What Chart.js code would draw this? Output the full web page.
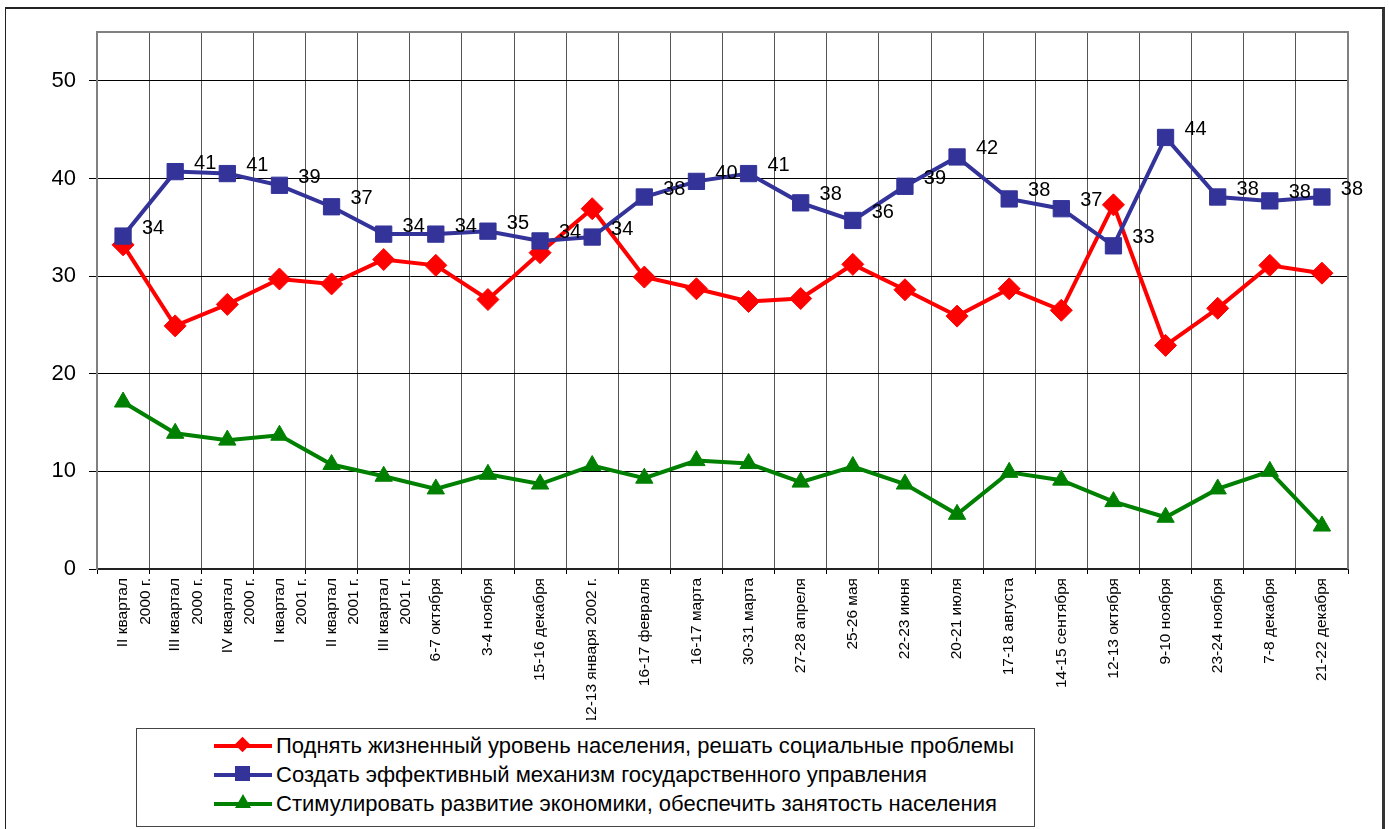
<!DOCTYPE html>
<html lang="ru">
<head>
<meta charset="utf-8">
<title>Приоритеты</title>
<script src="https://cdn.jsdelivr.net/npm/chart.js@4.4.1/dist/chart.umd.min.js"></script>
<style>
  html, body { margin: 0; padding: 0; background: #fff; }
  body { width: 1389px; height: 829px; position: relative; overflow: hidden; font-family: Arial, "Liberation Sans", sans-serif; }
  #frame { position: absolute; left: 5px; top: 7px; width: 1376px; height: 840px; border-top: 2px solid #222; border-left: 1.5px solid #222; border-right: 3px solid #333; }
  #chartWrap { position: absolute; left: 0; top: 0; width: 1389px; height: 829px; }
  #legend { position: absolute; left: 136px; top: 728px; width: 897px; height: 97px; border: 1.5px solid #444; background: #fff; }
  .item { position: absolute; left: 0; height: 28px; width: 890px; }
  .sample { position: absolute; left: 77px; top: 12px; width: 58px; height: 4px; }
  .marker { position: absolute; }
  .label { position: absolute; left: 139px; top: 0; line-height: 28px; font-size: 22px; color: #000; white-space: nowrap; }
</style>
</head>
<body>
<div id="frame"></div>
<div id="chartWrap"><canvas id="chart" width="1389" height="829"></canvas></div>
<div id="legend"></div>
<script>
const categories = [
  ["II квартал", "2000 г."], ["III квартал", "2000 г."], ["IV квартал", "2000 г."],
  ["I квартал", "2001 г."], ["II квартал", "2001 г."], ["III квартал", "2001 г."],
  "6-7 октября", "3-4 ноября", "15-16 декабря", "12-13 января 2002 г.",
  "16-17 февраля", "16-17 марта", "30-31 марта", "27-28 апреля", "25-26 мая",
  "22-23 июня", "20-21 июля", "17-18 августа", "14-15 сентября", "12-13 октября",
  "9-10 ноября", "23-24 ноября", "7-8 декабря", "21-22 декабря",
];

const seriesNames = [
  "Поднять жизненный уровень населения, решать социальные проблемы",
  "Создать эффективный механизм государственного управления",
  "Стимулировать развитие экономики, обеспечить занятость населения",
];

const livingStandard = [
  33.2, 24.9, 27.1, 29.7, 29.2, 31.7, 31.1, 27.6, 32.4, 36.9, 29.9, 28.7,
  27.4, 27.7, 31.2, 28.6, 25.9, 28.7, 26.5, 37.3, 22.9, 26.7, 31.1, 30.3,
];
const governance = [
  34.1, 40.7, 40.5, 39.3, 37.1, 34.3, 34.3, 34.6, 33.6, 34.0, 38.1, 39.7,
  40.5, 37.5, 35.7, 39.2, 42.2, 37.9, 36.9, 33.1, 44.2, 38.1, 37.7, 38.1,
];
const economy = [
  17.1, 13.9, 13.2, 13.7, 10.7, 9.5, 8.2, 9.7, 8.7, 10.6, 9.3, 11.1,
  10.8, 8.9, 10.5, 8.7, 5.6, 9.9, 9.1, 6.9, 5.3, 8.2, 10.0, 4.4,
];

const yTicks = [0, 10, 20, 30, 40, 50];

const COLORS = ["#ff0000", "#333399", "#008000"];
const FONT = "Arial, 'Liberation Sans', sans-serif";

// grey frame around the plot area (top, left, right)
const plotFrame = {
  id: "plotFrame",
  beforeDatasetsDraw(chart) {
    const { ctx, chartArea: a } = chart;
    ctx.save();
    ctx.strokeStyle = "#808080";
    ctx.lineWidth = 2;
    ctx.beginPath();
    ctx.moveTo(a.left, a.bottom);
    ctx.lineTo(a.left, a.top);
    ctx.lineTo(a.right, a.top);
    ctx.lineTo(a.right, a.bottom);
    ctx.stroke();
    ctx.restore();
  },
};

// value labels for the governance series
const valueLabels = {
  id: "valueLabels",
  afterDatasetsDraw(chart) {
    const { ctx } = chart;
    const meta = chart.getDatasetMeta(1);
    ctx.save();
    ctx.font = `20px ${FONT}`;
    ctx.fillStyle = "#000";
    ctx.textAlign = "center";
    ctx.textBaseline = "middle";
    meta.data.forEach((pt, i) => {
      ctx.fillText(String(Math.round(governance[i])), pt.x + 30, pt.y - 8);
    });
    ctx.restore();
  },
};

const chart = new Chart(document.getElementById("chart"), {
  type: "line",
  data: {
    labels: categories,
    datasets: [
      {
        label: seriesNames[0],
        data: livingStandard,
        borderColor: COLORS[0],
        backgroundColor: COLORS[0],
        borderWidth: 4,
        pointStyle: "rectRot",
        pointRadius: 11,
        pointBorderWidth: 1,
        order: 2,
      },
      {
        label: seriesNames[1],
        data: governance,
        borderColor: COLORS[1],
        backgroundColor: COLORS[1],
        borderWidth: 4,
        pointStyle: "rect",
        pointRadius: 11.5,
        pointBorderWidth: 1,
        order: 1,
      },
      {
        label: seriesNames[2],
        data: economy,
        borderColor: COLORS[2],
        backgroundColor: COLORS[2],
        borderWidth: 4,
        pointStyle: "triangle",
        pointRadius: 10,
        pointBorderWidth: 1,
        order: 3,
      },
    ],
  },
  options: {
    responsive: false,
    animation: false,
    layout: { padding: { top: 32, right: 41, bottom: 109, left: 0 } },
    plugins: { legend: { display: false }, tooltip: { enabled: false } },
    scales: {
      x: {
        offset: true,
        grid: { offset: true, color: "#555", lineWidth: 1, tickColor: "#000", tickLength: 5 },
        border: { color: "#222", width: 2 },
        ticks: {
          minRotation: 90,
          maxRotation: 90,
          autoSkip: false,
          padding: 4,
          color: "#000",
          font: { family: FONT, size: 15.5, lineHeight: 1.45 },
        },
        afterFit(scale) { scale.height = 151; },
      },
      y: {
        min: 0,
        max: 55,
        grid: { color: "#000", lineWidth: 1, tickColor: "#000", tickLength: 8 },
        border: { color: "#808080", width: 2 },
        afterBuildTicks(scale) { scale.ticks = yTicks.map((v) => ({ value: v })); },
        ticks: {
          padding: 13,
          color: "#000",
          font: { family: FONT, size: 22 },
        },
        afterFit(scale) { scale.width = 97; },
      },
    },
  },
  plugins: [plotFrame, valueLabels],
});

function markerHtml(i, color) {
  if (i === 0) {
    return `<div class="marker" style="left:100px;top:7px;width:11px;height:11px;background:${color};transform:rotate(45deg);"></div>`;
  }
  if (i === 1) {
    return `<div class="marker" style="left:98px;top:5px;width:15px;height:15px;background:${color};"></div>`;
  }
  return `<div class="marker" style="left:98px;top:4px;width:0;height:0;border-left:8px solid transparent;border-right:8px solid transparent;border-bottom:14px solid ${color};"></div>`;
}

function renderLegend() {
  const legend = document.getElementById("legend");
  chart.data.datasets.forEach((ds, i) => {
    const item = document.createElement("div");
    item.className = "item";
    item.style.top = `${3 + i * 29}px`;
    item.innerHTML = `
      <div class="sample" style="background:${ds.borderColor}"></div>
      ${markerHtml(i, ds.borderColor)}
      <div class="label">${ds.label}</div>
    `;
    legend.appendChild(item);
  });
}

renderLegend();
</script>
</body>
</html>
